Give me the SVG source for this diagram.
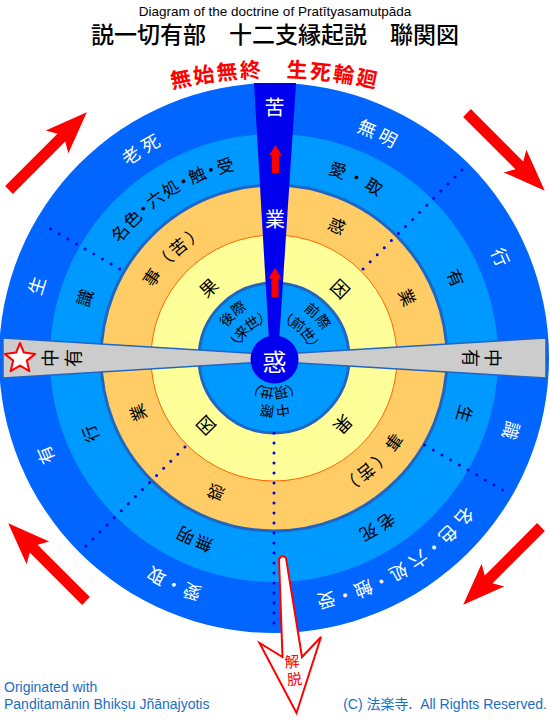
<svg xmlns="http://www.w3.org/2000/svg" xmlns:xlink="http://www.w3.org/1999/xlink" width="550" height="720" viewBox="0 0 550 720">
<style>
.j{font-family:"Noto Sans CJK JP","Noto Sans CJK SC",sans-serif}
.e{font-family:"Liberation Sans",Arial,sans-serif}
.w{fill:#fff}
.k{fill:#000}
.c{dominant-baseline:central;text-anchor:middle}
.dot{fill:none;stroke:#0000e0;stroke-width:3;stroke-linecap:round;stroke-dasharray:0 10}
.big{fill:#f00}
</style>
<defs>
<path id="p249" d="M274,109 A249,249 0 1,1 274,607 A249,249 0 1,1 274,109"/>
<path id="p200" d="M274,158 A200,200 0 1,1 274,558 A200,200 0 1,1 274,158"/>
<path id="p148" d="M274,210 A148,148 0 1,1 274,506 A148,148 0 1,1 274,210"/>
<path id="p97" d="M274,261 A97,97 0 1,1 274,455 A97,97 0 1,1 274,261"/>
<path id="p62" d="M274,296 A62,62 0 1,1 274,420 A62,62 0 1,1 274,296"/>
<path id="p42" d="M274,316 A42,42 0 1,1 274,400 A42,42 0 1,1 274,316"/>
<path id="p54" d="M274,304 A54,54 0 1,1 274,412 A54,54 0 1,1 274,304"/>
<path id="p36" d="M274,322 A36,36 0 1,1 274,394 A36,36 0 1,1 274,322"/>
<path id="parc" d="M44,129.9 A462,462 0 0,1 506,129.9"/>
<path id="bigArrow" d="M0,-5.5 L74,-5.5 L68,-16 L110,0 L68,16 L74,5.5 L0,5.5 Z"/>
</defs>

<!-- titles -->
<text class="e" x="275" y="16" font-size="13.5" text-anchor="middle" fill="#000">Diagram of the doctrine of Pratītyasamutpāda</text>
<text class="j" x="275" y="43" font-size="23" font-weight="500" text-anchor="middle" fill="#000">説一切有部　十二支縁起説　聯関図</text>
<text class="j" font-size="21" font-weight="bold" fill="#f00" dominant-baseline="central" text-anchor="middle" letter-spacing="2.5"><textPath xlink:href="#parc" startOffset="50%">無始無終　生死輪廻</textPath></text>

<!-- rings -->
<g id="rings">
<circle cx="274" cy="358" r="275" fill="#0066ff"/>
<circle cx="274" cy="358" r="224" fill="#0099ff"/>
<circle cx="274" cy="358" r="173" fill="#ffcc66" stroke="#1f66c2" stroke-width="3"/>
<circle cx="274" cy="358" r="123" fill="#ffff99" stroke="#ff6600" stroke-width="1"/>
<circle cx="274" cy="358" r="75" fill="#0099ff" stroke="#1f66c2" stroke-width="3"/>
</g>

<g id="connectors">
<path class="dot" d="M363.1,268.9 L462.8,169.2"/>
<path class="dot" d="M424.7,445 L511.3,495"/>
<path class="dot" d="M274,433 L274,626"/>
<path class="dot" d="M184.9,447.1 L81.7,550.3"/>
<path class="dot" d="M119.8,269 L41.9,224"/>
</g>

<!-- strips -->
<g id="chuu-u">
<path d="M3,338 L274,354.5 L546,338 L546,378 L274,361.5 L3,378 Z" fill="#cccccc" stroke="#1f66c2" stroke-width="1.5"/>
<text class="j k c" font-size="18" transform="translate(49,358) rotate(-90)">中</text>
<text class="j k c" font-size="18" transform="translate(72,358) rotate(-90)">有</text>
<text class="j k c" font-size="18" transform="translate(494,358) rotate(90)">中</text>
<text class="j k c" font-size="18" transform="translate(472,358) rotate(90)">有</text>
<polygon points="20,343 23.9,352.5 35.2,353.9 26.8,360.6 29.4,371.2 20,365.6 10.6,371.2 13.2,360.6 4.8,353.9 16.1,352.5" fill="#fff" stroke="#f00" stroke-width="2" stroke-linejoin="round"/>
</g>

<g id="karma-strip">
<path d="M254,83 L296,83 L278,358 L270,358 Z" fill="#0000ee"/>
<text class="j w c" x="274.5" y="106" font-size="20">苦</text>
<text class="j w c" x="275" y="218" font-size="20">業</text>
<path d="M275.5,145 L282,155.5 L279,155.5 L279,173 L272,173 L272,155.5 L269,155.5 Z" fill="#f00"/>
<path d="M275,268 L281.5,278.5 L278.5,278.5 L278.5,297 L271.5,297 L271.5,278.5 L268.5,278.5 Z" fill="#f00"/>
</g>

<!-- outer ring labels -->
<g id="outer-labels" class="j w" font-size="18">
<text class="c" letter-spacing="5"><textPath xlink:href="#p249" startOffset="91.11%">老死</textPath></text>
<text class="c" letter-spacing="5"><textPath xlink:href="#p249" startOffset="7.03%">無明</textPath></text>
<text class="c"><textPath xlink:href="#p249" startOffset="18.33%">行</textPath></text>
<text class="c"><textPath xlink:href="#p249" startOffset="29.72%">識</textPath></text>
<text class="c" letter-spacing="6"><textPath xlink:href="#p249" startOffset="41.53%">名<tspan letter-spacing="1.5">色・</tspan>六<tspan letter-spacing="1.5">処・触・</tspan>受</textPath></text>
<text class="c" letter-spacing="1.5"><textPath xlink:href="#p249" startOffset="56.67%">愛・取</textPath></text>
<text class="c"><textPath xlink:href="#p249" startOffset="68.61%">有</textPath></text>
<text class="c"><textPath xlink:href="#p249" startOffset="79.72%">生</textPath></text>
</g>

<g id="light-labels" class="j k" font-size="17">
<text class="c" letter-spacing="2"><textPath xlink:href="#p200" startOffset="91.03%">名<tspan letter-spacing="-2">色・</tspan>六<tspan letter-spacing="-2">処・触・</tspan>受</textPath></text>
<text class="c" letter-spacing="3"><textPath xlink:href="#p200" startOffset="6.94%">愛・取</textPath></text>
<text class="c"><textPath xlink:href="#p200" startOffset="18.39%">有</textPath></text>
<text class="c"><textPath xlink:href="#p200" startOffset="29.53%">生</textPath></text>
<text class="c" letter-spacing="4"><textPath xlink:href="#p200" startOffset="41.39%">老死</textPath></text>
<text class="c" letter-spacing="3"><textPath xlink:href="#p200" startOffset="56.67%">無明</textPath></text>
<text class="c"><textPath xlink:href="#p200" startOffset="68.78%">行</textPath></text>
<text class="c"><textPath xlink:href="#p200" startOffset="79.89%">識</textPath></text>
</g>

<g id="orange-labels" class="j k" font-size="17">
<text class="c" letter-spacing="3.5"><textPath xlink:href="#p148" startOffset="87.78%">事（苦）</textPath></text>
<text class="c"><textPath xlink:href="#p148" startOffset="7.08%">惑</textPath></text>
<text class="c"><textPath xlink:href="#p148" startOffset="18.19%">業</textPath></text>
<text class="c" letter-spacing="3.5"><textPath xlink:href="#p148" startOffset="38.25%">事（苦）</textPath></text>
<text class="c"><textPath xlink:href="#p148" startOffset="56.5%">惑</textPath></text>
<text class="c"><textPath xlink:href="#p148" startOffset="68.89%">業</textPath></text>
</g>

<g id="yellow-labels" class="j k" font-size="18">
<text class="c"><textPath xlink:href="#p97" startOffset="88.06%">果</textPath></text>
<text class="c"><textPath xlink:href="#p97" startOffset="12.17%">因</textPath></text>
<text class="c"><textPath xlink:href="#p97" startOffset="37.22%">果</textPath></text>
<text class="c"><textPath xlink:href="#p97" startOffset="62.61%">因</textPath></text>
</g>

<g id="inner-labels" class="j k" font-size="14">
<text class="c" letter-spacing="2"><textPath xlink:href="#p62" startOffset="88.33%">後際</textPath></text>
<text class="c"><textPath xlink:href="#p42" startOffset="88.33%">（来世）</textPath></text>
<text class="c" letter-spacing="2"><textPath xlink:href="#p62" startOffset="13.06%">前際</textPath></text>
<text class="c"><textPath xlink:href="#p42" startOffset="12.5%">（前世）</textPath></text>
<text class="c" letter-spacing="2"><textPath xlink:href="#p54" startOffset="50%">中際</textPath></text>
<text class="c"><textPath xlink:href="#p36" startOffset="50%">（現世）</textPath></text>
</g>

<g id="waku">
<circle cx="274.5" cy="359.5" r="24" fill="#0000ee"/>
<text class="j w c" x="274.5" y="360" font-size="24">惑</text>
</g>

<!-- circulation arrows -->
<g id="cycle-arrows" class="big">
<use xlink:href="#bigArrow" transform="translate(9,190) rotate(-45)"/>
<use xlink:href="#bigArrow" transform="translate(467,113) rotate(45)"/>
<use xlink:href="#bigArrow" transform="translate(541,527) rotate(135)"/>
<use xlink:href="#bigArrow" transform="translate(86,601) rotate(225)"/>
</g>

<g id="gedatsu">
<path d="M279,559 Q282,554 286,558 L302,657 L321,637 L296.5,713 L259.5,643 L282.5,657 Z" fill="#fff" stroke="#f00" stroke-width="2"/>
<text class="j c" fill="#f00" font-size="15" transform="translate(292,660.5) rotate(-5)">解</text>
<text class="j c" fill="#f00" font-size="15" transform="translate(294.5,678) rotate(-5)">脱</text>
</g>

<g id="footer" font-size="14" fill="#1a6ec4">
<text class="e" x="4" y="692">Originated with</text>
<text class="e" x="4" y="709">Paṇḍitamānin Bhikṣu Jñānajyotis</text>
<text class="e" x="547" y="709" text-anchor="end" xml:space="preserve">(C) <tspan class="j">法楽寺.</tspan>  All Rights Reserved.</text>
</g>
</svg>
